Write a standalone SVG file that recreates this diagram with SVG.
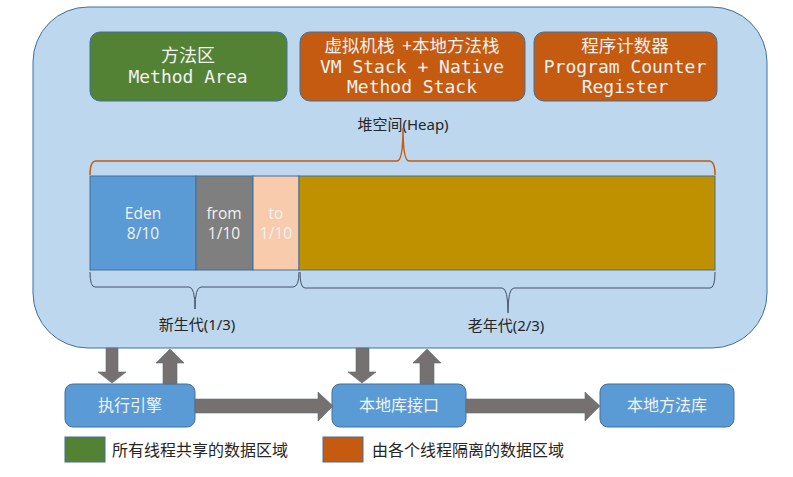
<svg xmlns="http://www.w3.org/2000/svg" width="793" height="477" viewBox="0 0 793 477">
<style>
.mono{font-family:"DejaVu Sans Mono","Liberation Mono","Noto Sans CJK SC",monospace;font-size:18px;fill:#F2F2F2;text-anchor:middle}
.cjk{font-family:"Noto Sans CJK SC","Noto Sans",sans-serif;fill:#F2F2F2;text-anchor:middle}
.lbl{font-family:"Noto Sans","Noto Sans CJK SC",sans-serif;font-size:15px;fill:#262626;text-anchor:middle}
.seg{font-family:"Open Sans","Noto Sans",sans-serif;font-size:15.5px;fill:#F2F2F2;text-anchor:middle}
.box{stroke:#41719C;stroke-width:1}
.arrow{fill:#767171;stroke:#5f6b7a;stroke-width:0.6}
.leg{font-family:"Noto Sans CJK SC","Noto Sans",sans-serif;font-size:16px;fill:#262626}
</style>
<rect width="793" height="477" fill="#FFFFFF"/>
<g id="container">
<rect x="33" y="7" width="734" height="341" rx="55" ry="55" fill="#BDD7EE" stroke="#41719C" stroke-width="1"/>
</g>
<g id="method-area">
<rect class="box" x="90" y="32" width="197" height="69" rx="10" fill="#548235"/>
<text class="cjk" x="188" y="62" font-size="18">方法区</text>
<text class="mono" x="188" y="83">Method Area</text>
</g>
<g id="vm-stack">
<rect class="box" x="300" y="32" width="225" height="69" rx="10" fill="#C55A11"/>
<text class="cjk" x="412" y="52" font-size="17.5" xml:space="preserve">虚拟机栈  +本地方法栈</text>
<text class="mono" x="412" y="73">VM Stack + Native</text>
<text class="mono" x="412" y="93">Method Stack</text>
</g>
<g id="pc-register">
<rect class="box" x="534" y="32" width="183" height="69" rx="10" fill="#C55A11"/>
<text class="cjk" x="625" y="52" font-size="17.5">程序计数器</text>
<text class="mono" x="625" y="73">Program Counter</text>
<text class="mono" x="625" y="93">Register</text>
</g>
<g id="heap">
<text class="lbl" x="403" y="130">堆空间(Heap)</text>
<path d="M90,175 Q90,161 96,161 L397,161 Q403,161 403,128 Q403,161 409,161 L709,161 Q715,161 715,175" fill="none" stroke="#C55A11" stroke-width="1.5"/>
</g>
<g id="eden">
<rect x="90" y="176" width="106" height="94" fill="#5B9BD5" stroke="#41719C" stroke-width="1"/>
<text class="seg" x="143" y="219">Eden</text>
<text class="seg" x="143" y="239">8/10</text>
</g>
<g id="from">
<rect x="196" y="176" width="57" height="94" fill="#7F7F7F" stroke="#41719C" stroke-width="1"/>
<text class="seg" x="224" y="219">from</text>
<text class="seg" x="224" y="239">1/10</text>
</g>
<g id="to">
<rect x="253" y="176" width="46" height="94" fill="#F8CBAD" stroke="#41719C" stroke-width="1"/>
<text class="seg" x="276" y="219">to</text>
<text class="seg" x="276" y="239">1/10</text>
</g>
<g id="old">
<rect x="299" y="176" width="416" height="94" fill="#BF9000" stroke="#41719C" stroke-width="1"/>
</g>
<g id="young-gen">
<path d="M90,272 Q90,287 95,287 L189,287 Q195,287 195,309 Q195,287 201,287 L293,287 Q299,287 299,272" fill="none" stroke="#44546A" stroke-width="1"/>
<text class="lbl" x="197" y="330">新生代(1/3)</text>
</g>
<g id="old-gen">
<path d="M300,272 Q300,288 305,288 L502,288 Q508,288 508,313 Q508,288 514,288 L710,288 Q715,288 715,272" fill="none" stroke="#44546A" stroke-width="1"/>
<text class="lbl" x="506" y="331">老年代(2/3)</text>
</g>
<g id="exec-engine">
<rect class="box" x="65" y="384" width="130" height="43" rx="8" fill="#5B9BD5"/>
<text class="cjk" x="130" y="411" font-size="16">执行引擎</text>
</g>
<g id="native-interface">
<rect class="box" x="332" y="384" width="134" height="43" rx="8" fill="#5B9BD5"/>
<text class="cjk" x="399" y="411" font-size="16">本地库接口</text>
</g>
<g id="native-lib">
<rect class="box" x="600" y="384" width="134" height="43" rx="8" fill="#5B9BD5"/>
<text class="cjk" x="667" y="411" font-size="16">本地方法库</text>
</g>
<g id="connectors">
<polygon class="arrow" points="106,348 118,348 118,372 126,372 112,383 98,372 106,372"/>
<polygon class="arrow" points="163,384 177,384 177,363 184,363 170,349 156,363 163,363"/>
<polygon class="arrow" points="356,348 369,348 369,372 376,372 362,383 348,372 356,372"/>
<polygon class="arrow" points="420,384 434,384 434,363 441,363 427,349 413,363 420,363"/>
<polygon class="arrow" points="195,399 318,399 318,392 333,406 318,421 318,413 195,413"/>
<polygon class="arrow" points="466,399 585,399 585,392 600,406 585,421 585,413 466,413"/>
</g>
<g id="legend">
<rect x="65" y="437" width="40" height="25" fill="#548235" stroke="#41719C" stroke-width="1"/>
<text class="leg" x="112" y="456">所有线程共享的数据区域</text>
<rect x="323" y="437" width="40" height="25" fill="#C55A11" stroke="#41719C" stroke-width="1"/>
<text class="leg" x="372" y="456">由各个线程隔离的数据区域</text>
</g>
</svg>
